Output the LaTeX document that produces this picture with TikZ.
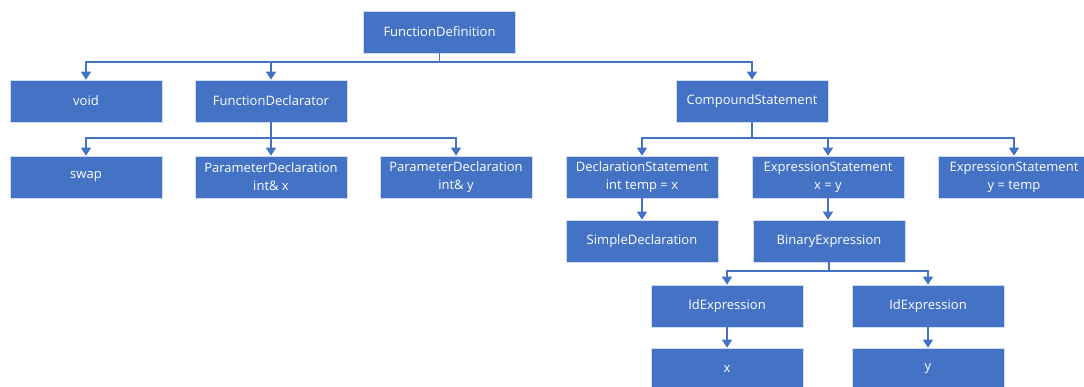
\documentclass[tikz,border=0pt]{standalone}
\usepackage{fontspec}
\setmainfont{Open Sans}
\usetikzlibrary{arrows.meta}
\definecolor{boxblue}{HTML}{4472C4}
\tikzset{
  astbox/.style={draw=white!75!boxblue, line width=0.6pt, fill=boxblue, text=white,
    minimum width=152pt, minimum height=42pt, inner sep=0pt, align=center,
    font=\fontsize{13}{18}\selectfont},
  conn/.style={draw=boxblue, line width=1.6pt, -{Triangle[length=8pt,width=10pt]}}
}
\begin{document}
\begin{tikzpicture}[x=1pt,y=-1pt]
  \useasboundingbox (0,0) rectangle (1084,387);
  \def\la{32}    % level 1
  \def\lb{101}   % level 2
  \def\lc{177}   % level 3
  \def\ld{241}   % level 4
  \def\le{306}   % level 5
  \def\lf{369}   % level 6
  \node[astbox] (fdef) at (439.5,\la) {FunctionDefinition};
  \node[astbox] (void) at (86,\lb) {void};
  \node[astbox] (fdecl) at (271,\lb) {FunctionDeclarator};
  \node[astbox] (cstmt) at (752,\lb) {CompoundStatement};
  \node[astbox] (swap) at (86,\lc) {swap};
  \node[astbox] (pdx) at (271,\lc) {ParameterDeclaration\\int\& x};
  \node[astbox] (pdy) at (456,\lc) {ParameterDeclaration\\int\& y};
  \node[astbox] (dstmt) at (642,\lc) {DeclarationStatement\\int temp = x};
  \node[astbox] (estx) at (828,\lc) {ExpressionStatement\\x = y};
  \node[astbox] (esty) at (1014,\lc) {ExpressionStatement\\y = temp};
  \node[astbox] (sdecl) at (642,\ld) {SimpleDeclaration};
  \node[astbox] (bexpr) at (829,\ld) {BinaryExpression};
  \node[astbox] (idx) at (727,\le) {IdExpression};
  \node[astbox] (idy) at (928,\le) {IdExpression};
  \node[astbox] (vx) at (727,\lf) {x};
  \node[astbox] (vy) at (928,\lf) {y};
  \foreach \c in {void,fdecl,cstmt} { \draw[conn] (fdef.south) -- ++(0,9) -| (\c.north); }
  \foreach \c in {swap,pdx,pdy} { \draw[conn] (fdecl.south) -- ++(0,16) -| (\c.north); }
  \foreach \c in {dstmt,estx,esty} { \draw[conn] (cstmt.south) -- ++(0,16) -| (\c.north); }
  \foreach \c in {idx,idy} { \draw[conn] (bexpr.south) -- ++(0,9) -| (\c.north); }
  \draw[conn] (dstmt) -- (sdecl);
  \draw[conn] (estx.south) -- (estx.south |- sdecl.north);
  \draw[conn] (idx) -- (vx);
  \draw[conn] (idy) -- (vy);
\end{tikzpicture}
\end{document}
